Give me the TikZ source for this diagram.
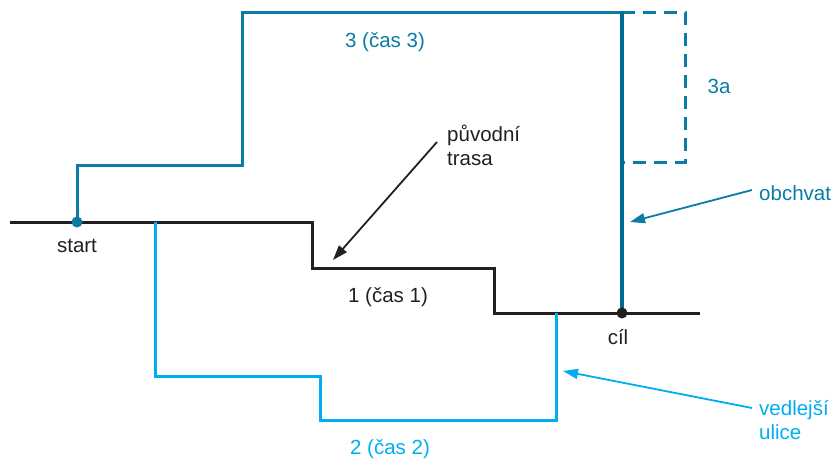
\documentclass[tikz,border=0pt]{standalone}
\usepackage{fontspec}
\setmainfont{Liberation Sans}
\usepackage{tikz}
\usetikzlibrary{arrows.meta}
\definecolor{hlavni}{HTML}{231F20}
\definecolor{obchod}{HTML}{0A7BA6}
\definecolor{obchtmava}{HTML}{006B91}
\definecolor{vedlejsi}{HTML}{00AEEF}

\begin{document}
\begin{tikzpicture}[x=1pt, y=-1pt, route/.style={line width=3pt}, popis/.style={font=\fontsize{20.5}{24}\selectfont, inner sep=0pt}, sipka/.style={line width=1.8pt, -{Triangle[length=15pt, width=10pt]}}, bod/.style={circle, fill, inner sep=0pt, minimum size=11pt}]
\useasboundingbox (0,0) rectangle (838,458);
% body trasy
\coordinate (start) at (77,222);
\coordinate (cil) at (622,313);
\coordinate (T1) at (333,260);
\coordinate (T2) at (630,222);
\coordinate (T3) at (563,371);
% puvodni trasa
\draw[route, hlavni] (10,222) -- (312,222) -- (312,268) -- (494,268) -- (494,313) -- (700,313);
% vedlejsi ulice
\draw[route, vedlejsi] (155,222) -- (155,376) -- (320,376) -- (320,420) -- (556,420) -- (556,313);
% trasa 3
\draw[route, obchod] (start) -- (77,165) -- (242,165) -- (242,12) -- (622,12);
\draw[route, obchod, dash pattern=on 13pt off 8pt] (622,12) -- (685,12) -- (685,162) -- (622,162);
\draw[line width=4pt, obchtmava] (622,12) -- (cil);
\node[bod, obchod] (S) at (start) {};
\node[bod, hlavni] (C) at (cil) {};
% popisky
\node[popis, hlavni] (ls) at (77,246) {start};
\node[popis, hlavni] (lc) at (618,337) {cíl};
\node[popis, hlavni] (l1) at (388,297) {1 (čas 1)};
\node[popis, vedlejsi] (l2) at (390,449) {2 (čas 2)};
\node[popis, obchod] (l3) at (385,42) {3 (čas 3)};
\node[popis, obchod] (l3a) at (719,86) {3a};
\node[popis, hlavni, anchor=west, align=left] (lp) at (447,145) {původní\\trasa};
\node[popis, obchod, anchor=west] (lo) at (759,193) {obchvat};
\node[popis, vedlejsi, anchor=west, align=left] (lv) at (759,420) {vedlejší\\ulice};
% sipky
\draw[sipka, hlavni] (437,142) -- (T1);
\draw[sipka, obchod] (lo.west) ++(-7,-3) -- (T2);
\draw[sipka, vedlejsi] (lv.west) ++(-7,-12) -- (T3);
\end{tikzpicture}
\end{document}
